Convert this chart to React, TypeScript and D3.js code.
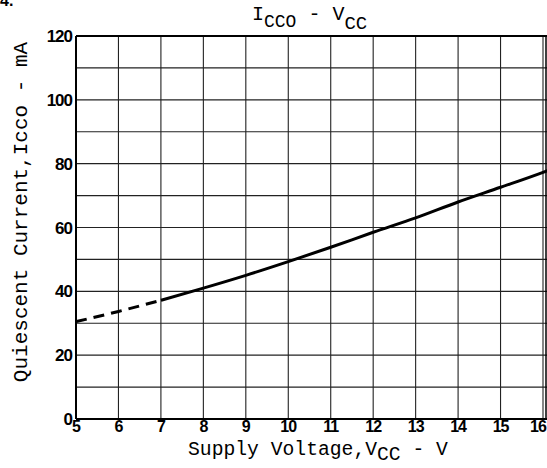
import React from "react";
import * as d3 from "d3";

const voltage = [5, 6, 7, 8, 9, 10, 11, 12, 13, 14, 15, 16, 16.2];
const current = [30.5, 33.7, 37.2, 41, 45, 49.3, 53.8, 58.5, 63, 68, 72.6, 77.3, 78.3];
const dashedUntil = 7;
const xTicks = [5, 6, 7, 8, 9, 10, 11, 12, 13, 14, 15, 16];
const yTicks = [0, 20, 40, 60, 80, 100, 120];
const yGrid = [10, 20, 30, 40, 50, 60, 70, 80, 90, 100, 110];

const W = 547, H = 468;
const left = 76, bottom = 419, top = 36;

export default function App() {
  const x = d3.scaleLinear().domain([5, 16]).range([left, 543]);
  const y = d3.scaleLinear().domain([0, 120]).range([bottom, top]);
  const pts = voltage.map((v, i) => [v, current[i]] as [number, number]);
  const line = d3.line<[number, number]>().x(d => x(d[0])).y(d => y(d[1])).curve(d3.curveMonotoneX);
  const dashPts = pts.filter(p => p[0] <= dashedUntil);
  const solidPts = pts.filter(p => p[0] >= dashedUntil);
  const mono = "'Liberation Mono', 'DejaVu Sans Mono', monospace";
  const sans = "'Liberation Sans', Arial, sans-serif";
  return (
    <svg width={W} height={H} style={{ position: "absolute", left: 0, top: 0, background: "#fff" }}>
      <defs>
        <clipPath id="plot"><rect x={left - 2} y={top - 2} width={W - left + 2} height={bottom - top + 4} /></clipPath>
      </defs>
      <text x={0} y={6} fontFamily={sans} fontWeight="bold" fontSize={16}>4.</text>
      <text x={252} y={20} fontFamily={mono} fontSize={20}>
        <tspan>I</tspan>
        <tspan dy={7} fontSize={18}>CCO</tspan>
        <tspan dy={-7}> - V</tspan>
        <tspan dy={9} fontSize={19}>CC</tspan>
      </text>
      <g clipPath="url(#plot)">
        {yGrid.map(v => (
          <line key={"h" + v} x1={left} x2={W} y1={y(v)} y2={y(v)} stroke="#222" strokeWidth={1.1} />
        ))}
        {xTicks.slice(1).map(v => (
          <line key={"v" + v} x1={x(v)} x2={x(v)} y1={top} y2={bottom} stroke="#222" strokeWidth={1.1} />
        ))}
        <line x1={left} x2={W} y1={top} y2={top} stroke="#000" strokeWidth={1.8} />
        <line x1={left} x2={W} y1={bottom} y2={bottom} stroke="#000" strokeWidth={2} />
        <line x1={W - 1} x2={W - 1} y1={top} y2={bottom} stroke="#000" strokeWidth={1.5} />
        <line x1={left} x2={left} y1={top} y2={bottom} stroke="#000" strokeWidth={2} />
        <path d={line(dashPts) || ""} fill="none" stroke="#000" strokeWidth={3} strokeDasharray="11,7" />
        <path d={line(solidPts) || ""} fill="none" stroke="#000" strokeWidth={3} />
      </g>
      {yTicks.map(v => (
        <text key={"yt" + v} x={left - 4} y={y(v) + 6} textAnchor="end" fontFamily={sans} fontWeight="bold" fontSize={17} letterSpacing={-1}>{v}</text>
      ))}
      {xTicks.map(v => (
        <text key={"xt" + v} x={Math.min(x(v), 538)} y={432} textAnchor="middle" fontFamily={sans} fontWeight="bold" fontSize={16} letterSpacing={-1}>{v}</text>
      ))}
      <text x={188} y={455} fontFamily={mono} fontSize={19.7}>
        <tspan>Supply Voltage,V</tspan>
        <tspan dy={5}>CC</tspan>
        <tspan dy={-5}> - V</tspan>
      </text>
      <text transform="translate(27,212) rotate(-90)" textAnchor="middle" fontFamily={mono} fontSize={21}>
        Quiescent Current,Icco - mA
      </text>
    </svg>
  );
}
